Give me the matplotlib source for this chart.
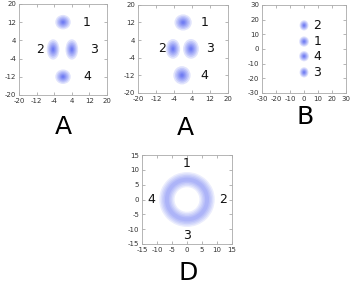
import numpy as np
import matplotlib
matplotlib.use("Agg")
import matplotlib.pyplot as plt
from matplotlib.patches import Ellipse, Annulus

plt.rcParams["axes.unicode_minus"] = False

# cluster centres / spreads
a1_x = [0, -4.5, 4, 0]
a1_y = [12, 0, 0, -12]
a1_sx = [2.2, 1.8, 1.8, 2.2]
a1_sy = [2.0, 2.8, 2.8, 2.0]
a1_labels = ["1", "2", "3", "4"]
a1_lx = [10.5, -10.5, 14, 11]
a1_ly = [12, 0, 0, -12]

a2_x = [0, -4.5, 3.5, -0.5]
a2_y = [12, 0, 0, -12]
a2_sx = [2.4, 2.0, 2.2, 2.4]
a2_sy = [2.3, 2.8, 2.8, 2.6]
a2_labels = ["1", "2", "3", "4"]
a2_lx = [9.5, -9.5, 12, 9.5]
a2_ly = [12, 0, 0, -12]

b_x = [0, 0, 0, 0]
b_y = [16, 5, -5, -16]
b_sx = [2.0, 2.2, 2.2, 2.0]
b_sy = [2.2, 2.2, 2.2, 2.2]
b_labels = ["2", "1", "4", "3"]
b_lx = [9.5, 9.5, 9.5, 9.5]
b_ly = [16, 5, -5, -16]

d_radius = 6.7
d_width = 3.2
d_labels = ["1", "2", "3", "4"]
d_lx = [0, 12, 0, -12]
d_ly = [12, 0, -12, 0]

a_ticks = [-20, -12, -4, 4, 12, 20]
b_ticks = [-30, -20, -10, 0, 10, 20, 30]
d_ticks = [-15, -10, -5, 0, 5, 10, 15]

blue = "#2a3cf0"

fig = plt.figure(figsize=(3.55, 2.85), dpi=100)


def style(ax, lim, ticks):
    ax.set_xlim(-lim, lim)
    ax.set_ylim(-lim, lim)
    ax.set_xticks(ticks)
    ax.set_yticks(ticks)
    ax.tick_params(direction="in", length=2, width=0.5, labelsize=5,
                   colors="#999999", labelcolor="#333333", pad=2,
                   top=True, right=True)
    for s in ax.spines.values():
        s.set_color("#aaaaaa")
        s.set_linewidth(0.6)


def blobs(ax, xs, ys, sx, sy):
    for x, y, a, b in zip(xs, ys, sx, sy):
        for k in [1.6, 1.3, 1.05, 0.8, 0.6, 0.4, 0.25]:  # soft layers
            ax.add_patch(Ellipse((x, y), 2 * a * k, 2 * b * k, color=blue,
                                 alpha=0.14, lw=0))


def labels(ax, lx, ly, txt):
    for x, y, t in zip(lx, ly, txt):
        ax.text(x, y, t, fontsize=9, ha="center", va="center", color="#111111")


ax1 = fig.add_axes([0.0535, 0.667, 0.248, 0.319])
style(ax1, 20, a_ticks)
blobs(ax1, a1_x, a1_y, a1_sx, a1_sy)
labels(ax1, a1_lx, a1_ly, a1_labels)

ax2 = fig.add_axes([0.389, 0.674, 0.2535, 0.309])
style(ax2, 20, a_ticks)
blobs(ax2, a2_x, a2_y, a2_sx, a2_sy)
labels(ax2, a2_lx, a2_ly, a2_labels)

ax3 = fig.add_axes([0.738, 0.674, 0.237, 0.309])
style(ax3, 30, b_ticks)
blobs(ax3, b_x, b_y, b_sx, b_sy)
labels(ax3, b_lx, b_ly, b_labels)

ax4 = fig.add_axes([0.40, 0.144, 0.2535, 0.312])
style(ax4, 15, d_ticks)
for k in [1.6, 1.3, 1.0, 0.7, 0.4]:
    w = d_width * k
    ax4.add_patch(Annulus((0, 0), d_radius + w / 2, w, color=blue,
                          alpha=0.09, lw=0))
labels(ax4, d_lx, d_ly, d_labels)

fig.text(63 / 355, 1 - 127 / 285, "A", fontsize=18, ha="center", va="center")
fig.text(185 / 355, 1 - 128 / 285, "A", fontsize=18, ha="center", va="center")
fig.text(305 / 355, 1 - 117 / 285, "B", fontsize=18, ha="center", va="center")
fig.text(188 / 355, 1 - 273 / 285, "D", fontsize=18, ha="center", va="center")

fig.savefig("out.png", dpi=100, facecolor="white")
